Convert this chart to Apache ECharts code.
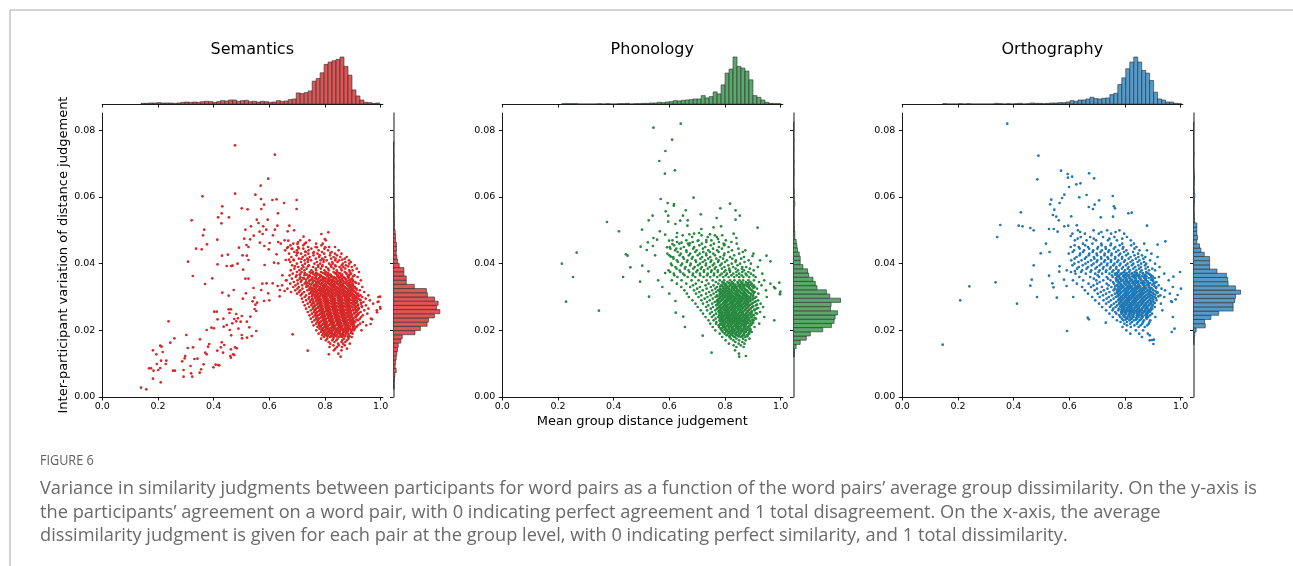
<!DOCTYPE html>
<html>
<head>
<meta charset="utf-8">
<title>Figure 6 - similarity judgements</title>
<script src="https://cdn.jsdelivr.net/npm/echarts@6/dist/echarts.min.js"></script>
<style>
  html, body { margin: 0; padding: 0; background: #fff; }
  #chart { width: 1293px; height: 566px; }
</style>
</head>
<body>
<div id="chart"></div>
<script>
// ---------- data ----------
const panelNames = ['Semantics', 'Phonology', 'Orthography'];
const xTicks = [0, 0.2, 0.4, 0.6, 0.8, 1.0];
const yTicks = [0, 0.02, 0.04, 0.06, 0.08];

// single points that can be read one by one: [mean distance, variation]
const semPoints = [
  [0.477,0.0755],[0.620,0.0727],[0.596,0.0655],[0.569,0.0634],[0.477,0.0610],[0.360,0.0602],[0.550,0.0607],[0.570,0.0594],
  [0.611,0.0591],[0.626,0.0593],[0.698,0.0591],[0.431,0.0572],[0.501,0.0566],[0.522,0.0563],[0.581,0.0577],[0.571,0.0564],
  [0.653,0.0582],[0.698,0.0564],[0.631,0.0551],[0.429,0.0551],[0.416,0.0539],[0.455,0.0539],[0.321,0.0530],[0.555,0.0532],
  [0.594,0.0532],[0.428,0.0521],[0.561,0.0522],[0.629,0.0514],[0.672,0.0514],[0.578,0.0512],[0.366,0.0502],[0.514,0.0502],
  [0.534,0.0512],[0.565,0.0496],[0.589,0.0502],[0.620,0.0502],[0.689,0.0500],[0.362,0.0485],[0.544,0.0484],[0.576,0.0489],
  [0.613,0.0485],[0.666,0.0497],[0.413,0.0472],[0.510,0.0475],[0.531,0.0473],[0.601,0.0462],[0.566,0.0463],[0.632,0.0465],
  [0.668,0.0469],[0.703,0.0464],[0.701,0.0459],[0.723,0.0481],[0.732,0.0463],[0.787,0.0489],[0.812,0.0494],[0.799,0.0474],
  [0.376,0.0458],[0.337,0.0445],[0.357,0.0443],[0.491,0.0448],[0.518,0.0456],[0.525,0.0450],[0.582,0.0453],[0.598,0.0443],
  [0.664,0.0447],[0.680,0.0444],[0.706,0.0446],[0.729,0.0436],[0.771,0.0449],[0.801,0.0449],[0.430,0.0424],[0.451,0.0427],
  [0.504,0.0425],[0.519,0.0424],[0.626,0.0428],[0.702,0.0433],[0.687,0.0412],[0.659,0.0411],[0.715,0.0414],[0.308,0.0406],
  [0.414,0.0398],[0.447,0.0393],[0.463,0.0393],[0.468,0.0394],[0.486,0.0400],[0.525,0.0411],[0.583,0.0396],[0.617,0.0403],
  [0.632,0.0401],[0.506,0.0382],[0.325,0.0363],[0.395,0.0356],[0.514,0.0355],[0.525,0.0355],[0.369,0.0339],[0.575,0.0340],
  [0.590,0.0341],[0.543,0.0327],[0.571,0.0321],[0.596,0.0311],[0.431,0.0313],[0.472,0.0321],[0.516,0.0311],[0.454,0.0304],
  [0.505,0.0295],[0.546,0.0298],[0.540,0.0287],[0.556,0.0283],[0.581,0.0288],[0.550,0.0277],[0.638,0.0321],[0.630,0.0333],
  [0.655,0.0318],[0.637,0.0302],[0.402,0.0256],[0.411,0.0256],[0.454,0.0263],[0.462,0.0263],[0.547,0.0264],[0.553,0.0258],
  [0.238,0.0227],[0.414,0.0233],[0.435,0.0235],[0.474,0.0234],[0.487,0.0236],[0.501,0.0243],[0.457,0.0252],[0.481,0.0249],
  [0.532,0.0241],[0.519,0.0226],[0.436,0.0211],[0.447,0.0216],[0.467,0.0221],[0.481,0.0227],[0.497,0.0226],[0.392,0.0208],
  [0.401,0.0206],[0.375,0.0201],[0.458,0.0201],[0.489,0.0205],[0.528,0.0209],[0.553,0.0198],[0.302,0.0186],[0.463,0.0185],
  [0.501,0.0186],[0.502,0.0176],[0.520,0.0178],[0.537,0.0183],[0.259,0.0176],[0.244,0.0163],[0.208,0.0154],[0.213,0.0151],
  [0.351,0.0173],[0.326,0.0149],[0.307,0.0147],[0.384,0.0159],[0.380,0.0151],[0.370,0.0133],[0.375,0.0128],[0.413,0.0139],
  [0.426,0.0149],[0.429,0.0164],[0.438,0.0156],[0.434,0.0133],[0.462,0.0143],[0.477,0.0149],[0.483,0.0146],[0.470,0.0128],
  [0.460,0.0123],[0.462,0.0118],[0.474,0.0126],[0.182,0.0140],[0.194,0.0128],[0.217,0.0135],[0.230,0.0109],[0.211,0.0109],
  [0.196,0.0099],[0.228,0.0099],[0.298,0.0123],[0.296,0.0116],[0.287,0.0107],[0.331,0.0114],[0.342,0.0115],[0.364,0.0098],
  [0.399,0.0089],[0.407,0.0097],[0.416,0.0096],[0.420,0.0095],[0.168,0.0086],[0.175,0.0086],[0.184,0.0079],[0.201,0.0081],
  [0.208,0.0087],[0.254,0.0079],[0.261,0.0079],[0.292,0.0081],[0.317,0.0093],[0.355,0.0083],[0.319,0.0071],[0.292,0.0061],
  [0.323,0.0061],[0.350,0.0073],[0.182,0.0055],[0.210,0.0044],[0.139,0.0028],[0.158,0.0023],
  [0.998,0.0301],[0.992,0.0286],[0.999,0.0265],[0.987,0.0254],[0.964,0.0219],[0.969,0.0233],[0.738,0.0139],[0.814,0.0128],
  [0.856,0.0121],[0.684,0.0188],[0.600,0.0290],[0.612,0.0341],[0.660,0.0350],[0.647,0.0365]
];
const phoPoints = [
  [0.543,0.0808],[0.641,0.0820],[0.610,0.0772],[0.586,0.0738],[0.564,0.0708],[0.620,0.0680],[0.584,0.0670],[0.569,0.0594],
  [0.687,0.0598],[0.594,0.0582],[0.617,0.0579],[0.616,0.0574],[0.818,0.0580],[0.659,0.0560],[0.587,0.0557],[0.783,0.0566],
  [0.838,0.0560],[0.540,0.0544],[0.596,0.0544],[0.649,0.0544],[0.713,0.0548],[0.853,0.0544],[0.526,0.0530],[0.639,0.0529],
  [0.376,0.0525],[0.596,0.0526],[0.622,0.0519],[0.666,0.0530],[0.770,0.0537],[0.838,0.0532],[0.665,0.0514],[0.759,0.0509],
  [0.786,0.0512],[0.917,0.0508],[0.419,0.0497],[0.502,0.0502],[0.566,0.0497],[0.585,0.0487],[0.628,0.0492],[0.672,0.0488],
  [0.689,0.0490],[0.707,0.0492],[0.715,0.0504],[0.746,0.0488],[0.764,0.0485],[0.831,0.0490],[0.841,0.0477],[0.543,0.0477],
  [0.556,0.0472],[0.523,0.0464],[0.599,0.0469],[0.611,0.0459],[0.644,0.0463],[0.674,0.0461],[0.702,0.0468],[0.733,0.0471],
  [0.775,0.0474],[0.798,0.0458],[0.497,0.0451],[0.519,0.0441],[0.541,0.0453],[0.592,0.0449],[0.625,0.0445],[0.267,0.0433],
  [0.444,0.0428],[0.450,0.0424],[0.549,0.0425],[0.605,0.0421],[0.899,0.0423],[0.949,0.0424],[0.963,0.0407],[0.214,0.0400],
  [0.503,0.0394],[0.460,0.0389],[0.525,0.0377],[0.254,0.0360],[0.434,0.0360],[0.495,0.0346],[0.527,0.0301],[0.229,0.0286],
  [0.347,0.0259],[0.656,0.0210],[0.720,0.0184],[0.752,0.0133],[0.851,0.0121],[0.875,0.0123],[0.977,0.0230],[0.999,0.0316],
  [0.998,0.0308],[0.995,0.0343],[0.980,0.0326],[0.623,0.0253],[0.622,0.0288],[0.650,0.0241],[0.560,0.0350],[0.575,0.0330],
  [0.585,0.0372],[0.600,0.0310]
];
const ortPoints = [
  [0.377,0.0820],[0.489,0.0724],[0.485,0.0653],[0.570,0.0679],[0.594,0.0669],[0.595,0.0658],[0.610,0.0661],[0.671,0.0671],
  [0.689,0.0656],[0.640,0.0641],[0.625,0.0638],[0.599,0.0630],[0.582,0.0607],[0.574,0.0597],[0.565,0.0582],[0.535,0.0592],
  [0.531,0.0578],[0.636,0.0599],[0.662,0.0606],[0.707,0.0590],[0.756,0.0603],[0.670,0.0570],[0.685,0.0564],[0.691,0.0577],
  [0.760,0.0572],[0.764,0.0566],[0.546,0.0562],[0.541,0.0546],[0.553,0.0541],[0.562,0.0530],[0.426,0.0554],[0.812,0.0551],
  [0.824,0.0553],[0.713,0.0539],[0.757,0.0541],[0.607,0.0542],[0.352,0.0516],[0.418,0.0514],[0.432,0.0512],[0.460,0.0507],
  [0.472,0.0500],[0.527,0.0504],[0.544,0.0504],[0.558,0.0496],[0.582,0.0512],[0.596,0.0514],[0.627,0.0515],[0.879,0.0514],
  [0.341,0.0480],[0.605,0.0483],[0.516,0.0460],[0.497,0.0431],[0.529,0.0435],[0.472,0.0395],[0.945,0.0467],[0.917,0.0457],
  [0.527,0.0364],[0.335,0.0344],[0.241,0.0332],[0.460,0.0334],[0.465,0.0352],[0.484,0.0300],[0.208,0.0290],[0.412,0.0280],
  [0.555,0.0298],[0.145,0.0157],[0.592,0.0198],[0.998,0.0375],[1.001,0.0325],[0.974,0.0361],[0.989,0.0306],[0.982,0.0293],
  [0.966,0.0287],[0.972,0.0240],[0.978,0.0205],[0.968,0.0195],[0.904,0.0172],[0.902,0.0159],[0.889,0.0185],[0.897,0.0171],
  [0.565,0.0392],[0.564,0.0376],[0.539,0.0341],[0.543,0.0329],[0.666,0.0238],[0.670,0.0233],[0.731,0.0223],[0.581,0.0352],
  [0.620,0.0378],[0.590,0.0333]
];

// dense clouds, one row per variation level: [variation x1e4, mean distance x1e3, ...]
const semCloud = [
  [470,655,711,744,803],[460,641,686,727,768,792],[455,676,722,787],[450,667,703,739,766,815,836],
  [445,683,722,751,798],[440,657,699,741,777,811,849],[435,690,731,760,789,824],[432,699,758,819],
  [430,671,714,740,773,797,836,859],[425,698,729,759,781,818,843],[420,679,720,745,779,801,831,855,878],
  [415,706,736,767,790,822,838,871],[412,671,740,795,862],[410,688,727,750,784,806,837,851,886],
  [405,675,714,738,771,795,826,845,873,893],[400,699,728,762,783,815,828,864,887],
  [395,682,719,742,775,791,821,837,860,875,907],[392,692,739,790,838,883],[390,704,723,757,776,804,823,852,866,896],
  [385,690,716,734,767,785,811,831,858,873,914],[380,677,708,726,751,768,798,814,842,860,887,899],
  [375,699,716,745,757,786,803,831,844,871,889,922],[370,684,712,728,757,772,799,812,839,855,877,894],
  [365,673,698,726,744,769,785,812,821,846,859,883,906],[360,695,712,740,755,782,794,821,832,854,867,886,917],
  [355,681,709,725,753,768,793,803,830,839,862,873,897],[350,662,701,716,744,759,784,796,818,829,852,863,887,900,929],
  [345,688,713,731,756,771,792,806,825,838,857,870,892,909],[340,675,702,727,744,768,780,801,814,833,844,864,877,899,921],
  [335,646,694,718,735,759,772,793,805,824,836,855,866,887,901],[330,686,706,733,748,769,782,800,812,831,842,861,872,893,907,934],
  [325,665,701,719,745,759,779,790,808,819,838,848,867,878,898,913],[320,693,711,737,753,773,784,802,812,830,841,859,869,889,902,925],
  [315,678,707,725,750,763,782,792,810,820,838,848,866,876,895,909,941],[310,700,718,743,757,776,786,804,813,831,841,859,869,887,898,919],
  [305,713,732,754,766,784,794,811,821,838,848,866,875,893,904,927,956],[300,727,744,764,775,792,801,818,828,845,854,872,881,899,911,934,992],
  [295,717,741,754,773,783,800,809,826,835,852,861,878,887,905,918,946],[290,732,749,768,778,795,804,820,829,846,855,871,880,897,907,928,961],
  [285,721,746,758,777,786,802,811,828,836,853,862,878,887,904,915,938,989],[280,738,753,772,781,798,806,822,831,847,856,872,881,898,908,930,973],
  [275,727,751,763,781,789,805,813,830,838,854,863,879,888,906,919,947],[270,743,758,776,785,801,809,825,833,849,857,874,882,899,910,933,998],
  [265,732,756,767,784,792,808,816,832,840,856,864,881,890,908,922,956],[260,749,763,780,788,804,812,828,836,852,860,876,885,902,914,941,986],
  [255,738,760,771,788,796,812,819,835,843,859,867,883,892,911,928],[250,753,766,783,791,807,815,831,839,855,863,879,888,906,920,952],
  [245,744,764,774,791,799,815,822,838,846,862,870,887,897,916,936],[240,758,770,787,795,811,819,835,843,859,867,883,892,911,930],
  [235,749,768,778,795,803,818,826,842,850,866,874,891,902,925,965],[230,762,774,791,799,815,823,839,847,863,871,888,898,919],
  [225,754,773,782,798,806,822,830,846,854,870,878,896,909,936],[220,768,779,795,803,819,827,843,851,867,875,892,903,926],
  [215,759,778,787,803,811,827,835,851,859,875,884,903,918,948],[210,773,784,801,809,825,833,849,857,873,882,900,913],
  [205,780,791,808,816,832,840,856,864,880,890,907],[200,769,790,799,816,825,842,850,866,875,893,904,931],
  [195,785,795,813,823,841,850,867,877,895],[190,777,794,806,825,836,855,865,884,899],[185,790,803,823,835,854,866,885],
  [180,796,818,831,851,862,882,896],[175,786,808,830,845,868,884],[170,803,826,841,862,879],[165,813,834,859,873],
  [160,819,847,865,889],[155,830,850,871],[150,816,843,861],[145,837,879],[140,832,859],[130,848]
];
// in-between rows of the solid centre of each cloud
const semCore = [
  [372,727,749,768,793,810,835,851,876],[367,709,735,762,779,803,820,844,862,889],
  [362,745,768,787,809,824,845,859,882,901],[357,721,738,763,779,800,814,837,849,870,884],
  [352,732,751,774,788,810,821,842,855,876,892],[347,743,766,780,802,813,834,846,866,879,901],
  [342,736,755,777,789,810,821,841,853,873,886,911],[337,749,764,785,797,817,828,848,859,879,893],
  [332,739,761,774,794,804,823,835,853,864,884,899],[327,753,767,787,797,816,827,845,856,875,888,906],
  [322,744,765,777,795,805,823,834,852,862,882,894,914],[317,758,771,790,799,817,827,845,855,873,884,903],
  [312,749,769,780,798,807,824,834,852,862,880,891,911],[307,762,774,792,801,819,828,846,855,873,883,901,915],
  [302,754,772,782,799,808,825,835,852,862,879,889,908,921],[297,765,777,794,803,820,829,846,856,872,882,899,912],
  [292,757,775,785,802,811,828,837,854,863,880,890,909,925],[287,768,780,797,806,823,832,849,858,875,884,902,915],
  [282,760,778,788,805,814,831,840,857,866,883,893,912,929],[277,771,783,800,809,826,835,852,861,878,887,905,918],
  [272,763,781,791,808,817,834,843,860,869,886,896,915,932],[267,774,786,803,812,829,838,855,864,881,890,908,921],
  [262,766,784,794,811,820,837,846,863,872,889,900,918],[257,777,789,805,815,831,841,857,867,883,894,912],
  [252,769,787,797,814,823,840,849,866,876,892,904,922],[247,780,792,808,818,834,844,860,870,886,897,915],
  [242,772,790,800,817,826,843,852,869,879,896,910],[237,783,795,811,821,837,847,863,873,890,902],
  [232,775,793,803,820,829,846,855,872,882,899,913],[227,786,798,814,824,840,850,866,876,893,905],
  [222,779,796,806,823,832,849,858,875,885,901],[217,790,801,817,827,843,853,869,880,896],
  [212,783,799,810,826,836,852,862,878,889,906],[207,794,805,821,831,847,857,873,884,900],
  [202,787,803,815,831,842,857,868,884,898],[197,798,810,826,838,854,866,882],
  [192,805,818,835,848,864,876,894],[187,800,813,831,844,861,874],[182,809,823,841,855,872,888]
];
const phoCloud = [
  [485,648,716,790],[480,626,682,738,771],[470,611,661,704,751,803],[465,628,684,733,778,823],
  [460,636,667,717,760,795,842],[455,617,671,708,749,797],[450,602,652,689,729,778,813],
  [445,604,641,686,721,757,789,848],[440,621,661,698,740,772,825,873],[435,630,662,693,722,746,777,812,864],
  [430,593,641,675,709,732,758,798,851,902],[425,600,637,670,702,733,764,796,833],[420,614,649,684,718,747,783,818,868],
  [415,615,652,681,712,740,769,793,826,858],[410,627,665,694,728,751,777,807,839,885,926],
  [405,631,663,696,720,748,775,800,838,870],[400,606,646,677,710,732,761,788,824,854,893],
  [395,609,642,675,703,731,756,783,812,845],[390,622,658,691,717,745,767,798,829,862,876,918],
  [385,626,656,686,713,738,763,789,815,838,861,889],[380,597,637,669,701,725,752,774,802,817,847,868,903],
  [375,603,640,672,697,724,750,774,797,818,841,862,884],[370,616,650,685,710,738,761,788,807,830,851,874,893,934],
  [365,618,655,684,711,736,760,782,803,823,842,860,878,902],[360,629,666,693,723,747,772,794,813,833,851,866,887,910],
  [350,609,644,680,705,734,756,781,797,818,834,852,865,884,904,941],[345,717,767,790,809,825,845,858,875,891,922],
  [340,627,661,695,741,776,799,817,830,848,861,878,896,963],[335,685,730,759,786,803,822,835,853,866,883,903,931],
  [330,643,675,710,749,771,793,809,826,839,856,868,886,907,976],[325,700,734,765,782,801,814,830,843,859,871,890,915],
  [320,654,689,720,754,775,794,806,822,834,850,862,879,896,947],[315,708,743,768,787,799,814,826,842,854,870,883,907],
  [310,663,696,732,759,781,794,809,820,835,847,863,875,894,920,997],[305,715,749,771,790,801,816,827,842,853,868,880,901],
  [300,670,705,737,766,783,799,810,824,835,850,861,876,889,912,950],[295,727,756,779,792,807,817,831,842,857,868,884,901],
  [290,683,715,745,772,787,802,812,826,836,851,862,877,891,919],[285,735,763,780,796,806,820,830,844,855,870,883,906],
  [280,694,721,754,774,792,802,816,826,840,851,866,878,897,928],[275,740,768,784,799,809,823,833,847,858,873,886,911],
  [270,702,732,757,780,792,806,816,830,840,855,866,882,898,937],[265,749,771,789,800,814,824,838,848,863,874,892,913],
  [260,713,736,765,782,798,808,822,832,846,857,872,885,906],[255,753,778,791,806,816,830,840,854,865,881,896,926],
  [250,721,746,768,788,800,814,824,838,848,863,875,893,915],[245,760,780,797,808,822,832,846,856,871,883,904],
  [240,730,753,775,790,805,815,829,839,853,864,880,896,941],[235,766,785,801,812,826,836,850,860,875,888,911],
  [230,741,759,780,794,809,819,833,843,857,868,885,903],[225,769,791,803,818,828,842,852,867,879,899],
  [220,747,768,783,800,811,825,835,849,860,876,892,923],[215,777,793,809,820,834,844,859,871,888],
  [210,756,779,796,813,825,840,851,867,881,906],[205,784,802,815,831,843,859,872,890],
  [200,765,788,805,823,836,852,865,884],[195,792,812,826,844,857,875,896],[190,781,799,819,836,850,868,887],
  [185,806,827,843,863,879],[180,790,816,835,856,873],[175,821,841,865,888],[170,802,830,851,874],
  [165,837,862],[160,814,849,870],[155,831,857],[150,841,867],[140,836],[130,850]
];
const phoCore = [
  [342,796,814,828,847,863,883],[337,791,805,823,838,857,872,891],[332,783,801,815,833,847,865,879,898],
  [327,793,807,824,837,854,868,886,902],[322,785,802,815,831,844,861,874,892],[317,780,793,809,822,839,851,868,881,900],
  [312,786,802,814,830,842,858,870,887,903],[307,781,793,809,821,837,848,864,876,893],
  [302,773,790,802,817,829,844,856,871,883,900],[297,783,795,811,822,837,849,864,876,892,907],
  [292,775,791,803,818,829,844,855,871,883,899],[287,771,783,799,810,825,836,851,862,878,890,911],
  [282,777,793,804,819,830,845,856,871,883,900],[277,773,785,800,811,826,837,852,863,878,891,915],
  [272,779,794,805,820,831,846,857,872,884,901],[267,775,786,801,812,827,838,853,864,880,893,919],
  [262,781,796,807,822,833,848,859,874,887,905],[257,777,788,803,814,829,840,855,866,882,896],
  [252,783,798,809,824,835,850,861,877,890,910],[247,779,790,805,816,831,842,857,868,885,899],
  [242,787,798,813,824,839,850,865,877,893],[237,781,792,807,818,833,844,859,871,886,906],
  [232,789,800,815,826,841,852,867,880,898],[227,783,794,809,820,835,846,861,873,891],
  [222,791,802,817,828,843,854,870,883,901],[217,786,797,812,823,838,849,864,876,895],
  [212,794,805,820,831,846,857,873,887],[207,789,800,815,826,841,852,868,881],
  [202,798,809,824,835,850,861,877,892],[197,805,817,833,845,861,873,890],
  [192,800,812,828,840,856,868,885],[187,809,822,839,852,869,882],[182,816,830,848,862,880]
];
const ortCloud = [
  [500,631,687,736,780],[495,639,715,766],[490,611,656,706,750,797],[480,641,675,721,762,807],
  [475,630,688,744,790],[470,620,662,696,739,771,821],[460,649,683,715,750,790,832,869],
  [455,619,657,716,748,781,822],[450,605,634,667,703,730,765,794,841],[445,637,671,701,731,760,792,834],
  [440,617,653,686,717,743,776,805,852,879],[435,612,649,684,712,740,768,797,829],
  [430,598,639,672,698,727,752,783,811,847,895],[425,637,670,700,726,751,778,804,834,861],
  [420,626,661,688,714,737,765,790,820,848,873,917],[415,619,656,690,715,740,764,789,813,839,866],
  [410,607,644,678,701,728,750,776,800,827,852,890],[405,633,667,698,725,749,772,796,820,845,868],
  [400,618,658,687,715,737,762,784,809,830,858,876,908],[395,611,648,680,709,735,758,781,803,825,848,872],
  [390,634,667,699,723,749,769,793,813,837,857,882,924],[385,628,662,694,721,746,768,789,810,830,851,874,898],
  [380,591,646,679,709,733,758,777,800,818,841,860,886,908],[375,606,642,676,705,731,754,776,796,815,835,855,876],
  [370,622,659,693,718,744,764,786,803,824,842,864,885,941],[365,702,753,773,795,811,831,848,871,894],
  [360,636,675,707,734,756,779,796,816,832,852,869,894,922],[355,688,739,767,784,804,819,838,854,875,899],
  [350,613,650,697,722,748,769,790,805,824,839,858,875,900,957],[345,709,757,777,797,811,829,844,863,881,913],
  [340,627,669,700,734,760,783,798,816,830,848,863,884,904],[335,687,741,769,787,805,818,835,849,868,885,921],
  [330,646,678,717,751,776,792,809,822,839,852,870,887,912,972],[325,699,737,763,785,799,815,827,843,856,874,891,931],
  [320,656,691,724,759,778,796,808,824,836,852,865,883,902,944],[315,713,744,771,787,804,816,832,844,860,873,894,916],
  [310,667,702,732,764,782,799,811,826,838,854,866,884,902,961],[305,721,753,774,793,805,820,832,847,859,876,893,927],
  [300,614,682,709,742,767,788,800,815,826,842,853,869,883,906,941],[295,734,759,782,795,810,821,836,848,863,876,898],
  [290,693,723,749,775,790,805,816,831,842,858,870,888,913],[285,741,768,785,801,812,827,838,853,865,882,902,969],
  [280,707,732,760,779,796,807,822,833,848,860,877,893,929],[275,751,772,791,803,818,829,844,856,872,887],
  [270,718,746,766,786,798,813,824,839,851,867,881,907],[265,758,778,796,808,823,834,850,862,880,898],
  [260,732,755,776,790,806,817,832,844,860,873,893,934],[255,765,786,800,816,828,844,856,873,889],
  [250,744,769,787,804,816,832,844,861,875,897],[245,779,795,812,825,842,855,873,890],
  [240,756,783,799,817,831,849,863,883,909],[235,789,809,824,843,858,878],[230,771,794,816,832,852,868,891],
  [225,784,807,825,847,865,888],[220,798,819,843,862,885],[215,807,834,856,880],[210,791,821,849,871],
  [200,805,839,865],[190,819,851,882],[180,861],[170,889]
];
const ortCore = [
  [372,771,791,806,827,843,864,880],[367,765,781,801,816,836,852,873,890],[362,773,793,807,826,841,861,877,899],
  [357,768,783,802,816,835,850,869,885,907],[352,776,794,808,826,840,858,873,893],
  [347,771,785,803,817,834,848,866,881,901],[342,779,796,809,826,839,857,871,890,908],
  [337,774,787,804,817,834,847,865,879,898],[332,765,782,795,812,825,842,855,872,886,906],
  [327,776,789,805,818,834,847,864,877,895,912],[322,770,783,799,811,827,840,856,869,886,900],
  [317,777,793,805,821,833,849,861,878,891,910],[312,773,785,801,813,829,841,857,869,886,899,917],
  [307,779,795,807,823,834,850,862,878,891,909],[302,775,787,803,814,830,842,858,870,887,900,920],
  [297,781,797,808,824,835,851,863,879,892,911],[292,777,789,805,816,832,843,859,871,888,902],
  [287,784,799,811,826,838,853,865,881,895],[282,780,792,807,819,834,846,862,874,891,907],
  [277,787,802,814,829,841,857,869,886,900],[272,783,795,811,822,838,850,866,879,897],
  [267,790,806,818,834,846,862,875,893],[262,787,799,815,827,843,855,872,886],
  [257,794,810,822,838,851,868,882],[252,791,804,821,834,851,864,882],
  [247,799,816,830,848,862,880],[242,796,810,829,844,863,879],[237,805,824,840,860,876],[232,802,818,839,856]
];

// marginal histograms: [first bin edge, bin width] and bar heights
const semTopBins = [0.139, 0.0143];
const semTopCounts = [2,2,3,3,4,3,3,3,2,3,5,6,5,6,5,7,8,7,5,7,10,9,12,12,8,10,11,7,8,6,8,7,5,6,10,8,9,13,15,33,31,34,39,68,76,93,118,125,129,133,140,112,86,42,24,12,5,4,2,3];
const semRightBins = [0.0023, 0.00126];
const semRightCounts = [2,2,3,4,8,5,6,8,10,12,14,22,26,64,80,100,104,122,138,128,133,122,101,98,62,38,38,31,31,17,12,10,8,9,9,6,6,5,2,3,2,2,1,2,1,1,1,1,1,0,1,0,1,1,0,1,0,0,1];
const phoTopBins = [0.214, 0.0143];
const phoTopCounts = [1,1,1,1,0,0,0,0,0,1,0,1,0,0,1,1,2,0,1,1,2,2,3,3,5,4,6,7,10,9,11,12,13,15,15,25,18,22,36,30,57,92,104,140,112,107,98,72,25,20,12,5,2,1,1];
const phoRightBins = [0.0120, 0.00126];
const phoRightCounts = [3,3,8,20,38,50,87,113,121,124,131,110,112,140,108,98,70,65,58,45,42,28,20,20,17,12,10,8,4,4,3,2,2,1,1,1,4,2,1,2,0,0,0,1,1,0,1,0,0,1,0,1,0,0,1,1];
const ortTopBins = [0.145, 0.0143];
const ortTopCounts = [1,0,0,0,1,0,1,0,0,0,0,0,0,2,1,0,1,0,1,2,0,1,3,2,2,1,2,3,3,4,4,6,10,8,12,12,15,20,16,15,17,18,28,32,58,78,105,125,140,125,100,92,70,35,15,12,6,6,2,1];
const ortRightBins = [0.0157, 0.00126];
const ortRightCounts = [2,2,4,8,35,33,52,75,118,118,123,125,140,125,103,102,98,70,48,48,48,32,22,18,10,12,10,10,10,3,2,2,1,2,3,4,2,1,2,3,2,1,0,0,0,1,0,0,0,0,0,0,1];

const captionTitle = 'FIGURE 6';
const captionLines = [
  'Variance in similarity judgments between participants for word pairs as a function of the word pairs\u2019 average group dissimilarity. On the y-axis is',
  'the participants\u2019 agreement on a word pair, with 0 indicating perfect agreement and 1 total disagreement. On the x-axis, the average',
  'dissimilarity judgment is given for each pair at the group level, with 0 indicating perfect similarity, and 1 total dissimilarity.'
];

// ---------- layout ----------
const LEFTS = [102.3, 502.3, 902.3];
const TOP = 113, PLOT_W = 280.6, PLOT_H = 284, MARG = 47, GAP_R = 291.2;
const XMAX = 1.008, YMAX = 0.0852, HMAX = 140;
const dotColors = ['#d62728', '#27893f', '#1f77b4'];
const barColors = ['#de5555', '#5aa86c', '#5799c7'];
const FONT = 'DejaVu Sans';

function cloudToPoints(rows) {
  const out = [];
  rows.forEach(r => { for (let i = 1; i < r.length; i++) out.push([r[i] / 1000, r[0] / 10000]); });
  return out;
}
function toBins(b, counts) {
  return counts.map((c, i) => [b[0] + i * b[1], b[0] + (i + 1) * b[1], c]);
}

const scatterData = [
  semPoints.concat(cloudToPoints(semCloud), cloudToPoints(semCore)),
  phoPoints.concat(cloudToPoints(phoCloud), cloudToPoints(phoCore)),
  ortPoints.concat(cloudToPoints(ortCloud), cloudToPoints(ortCore))
];
const topHists = [toBins(semTopBins, semTopCounts), toBins(phoTopBins, phoTopCounts), toBins(ortTopBins, ortTopCounts)];
const rightHists = [toBins(semRightBins, semRightCounts), toBins(phoRightBins, phoRightCounts), toBins(ortRightBins, ortRightCounts)];

const line = { color: '#000', width: 0.9 };
function tickAxis(grid, max, ticks, fmt, labelShow, margin, spine) {
  return {
    gridIndex: grid, type: 'value', min: 0, max: max,
    splitLine: { show: false },
    axisLine: { show: true, onZero: false, lineStyle: spine || line },
    axisTick: { show: true, inside: false, length: 3.5, customValues: ticks, lineStyle: line },
    axisLabel: { show: labelShow, customValues: ticks, formatter: fmt, fontSize: 9.5, fontFamily: FONT, color: '#000', margin: margin }
  };
}
const hidden = (grid) => ({ gridIndex: grid, type: 'value', min: 0, max: HMAX, show: false, splitLine: { show: false } });

function histSeries(idx, data, horizontal, fill) {
  return {
    type: 'custom', xAxisIndex: idx, yAxisIndex: idx, silent: true, data: data,
    encode: horizontal ? { x: 2, y: [0, 1] } : { x: [0, 1], y: 2 },
    renderItem: function (params, api) {
      const lo = api.value(0), hi = api.value(1), c = api.value(2);
      const a = horizontal ? api.coord([0, lo]) : api.coord([lo, 0]);
      const b = horizontal ? api.coord([c, hi]) : api.coord([hi, c]);
      return {
        type: 'rect',
        shape: { x: Math.min(a[0], b[0]), y: Math.min(a[1], b[1]), width: Math.abs(b[0] - a[0]), height: Math.abs(b[1] - a[1]) },
        style: { fill: fill, stroke: '#2a2a2a', lineWidth: 0.6 }
      };
    }
  };
}

const grids = [], xAxes = [], yAxes = [], series = [];
const fx = v => v.toFixed(1), fy = v => v.toFixed(2);
for (let p = 0; p < 3; p++) {
  const L = LEFTS[p], g = p * 3;
  grids.push({ left: L, top: TOP, width: PLOT_W, height: PLOT_H, outerBoundsMode: 'none' });
  grids.push({ left: L, top: TOP - 56, width: PLOT_W, height: MARG, outerBoundsMode: 'none' });
  grids.push({ left: L + GAP_R, top: TOP, width: MARG, height: PLOT_H, outerBoundsMode: 'none' });

  xAxes.push(tickAxis(g, XMAX, xTicks, fx, true, 5));
  yAxes.push(tickAxis(g, YMAX, yTicks, fy, true, 7));
  xAxes.push(tickAxis(g + 1, XMAX, xTicks, fx, false, 5));
  yAxes.push(hidden(g + 1));
  xAxes.push(hidden(g + 2));
  // the right marginal spine looks grey and heavier (empty bins stacked on it)
  yAxes.push(tickAxis(g + 2, YMAX, yTicks, fy, false, 7, { color: '#6e6e6e', width: 1.6 }));

  series.push({
    type: 'scatter', xAxisIndex: g, yAxisIndex: g, data: scatterData[p],
    symbol: 'circle', symbolSize: 2.7, silent: true,
    itemStyle: { color: dotColors[p], opacity: 1 }
  });
  series.push(histSeries(g + 1, topHists[p], false, barColors[p]));
  series.push(histSeries(g + 2, rightHists[p], true, barColors[p]));
}

// caption lines are squeezed to the width they take in the figure
const capFont = '18px "Open Sans"';
const ctx = document.createElement('canvas').getContext('2d');
ctx.font = capFont;
const capScale = 1217 / ctx.measureText(captionLines[0]).width;

const graphics = [
  { type: 'line', shape: { x1: 10, y1: 10, x2: 1293, y2: 10 }, style: { stroke: '#c4c4c4', lineWidth: 1.5 } },
  { type: 'line', shape: { x1: 10, y1: 10, x2: 10, y2: 566 }, style: { stroke: '#c4c4c4', lineWidth: 1.5 } },
  { type: 'text', x: 64, y: TOP + PLOT_H / 2, rotation: Math.PI / 2,
    style: { text: 'Inter-participant variation of distance judgement', font: '13px "' + FONT + '"', fill: '#000', align: 'center', verticalAlign: 'middle', textAlign: 'center', textVerticalAlign: 'middle' } },
  { type: 'text', x: LEFTS[1] + 140, y: 422,
    style: { text: 'Mean group distance judgement', font: '13px "' + FONT + '"', fill: '#000', align: 'center', verticalAlign: 'middle', textAlign: 'center', textVerticalAlign: 'middle' } },
  { type: 'text', x: 40, y: 461, scaleX: 0.9,
    style: { text: captionTitle, font: '14px "Open Sans"', fill: '#606060', verticalAlign: 'middle', textVerticalAlign: 'middle' } }
];
panelNames.forEach((name, p) => {
  graphics.push({ type: 'text', x: LEFTS[p] + 150, y: 50,
    style: { text: name, font: '16px "' + FONT + '"', fill: '#000', align: 'center', verticalAlign: 'middle', textAlign: 'center', textVerticalAlign: 'middle' } });
});
captionLines.forEach((t, i) => {
  graphics.push({ type: 'text', x: 40, y: 489 + i * 23.5, scaleX: capScale,
    style: { text: t, font: capFont, fill: '#6a6a6a', verticalAlign: 'middle', textVerticalAlign: 'middle' } });
});

const chart = echarts.init(document.getElementById('chart'));
chart.setOption({
  animation: false,
  backgroundColor: '#fff',
  grid: grids,
  xAxis: xAxes,
  yAxis: yAxes,
  series: series,
  graphic: graphics
});
</script>
</body>
</html>
